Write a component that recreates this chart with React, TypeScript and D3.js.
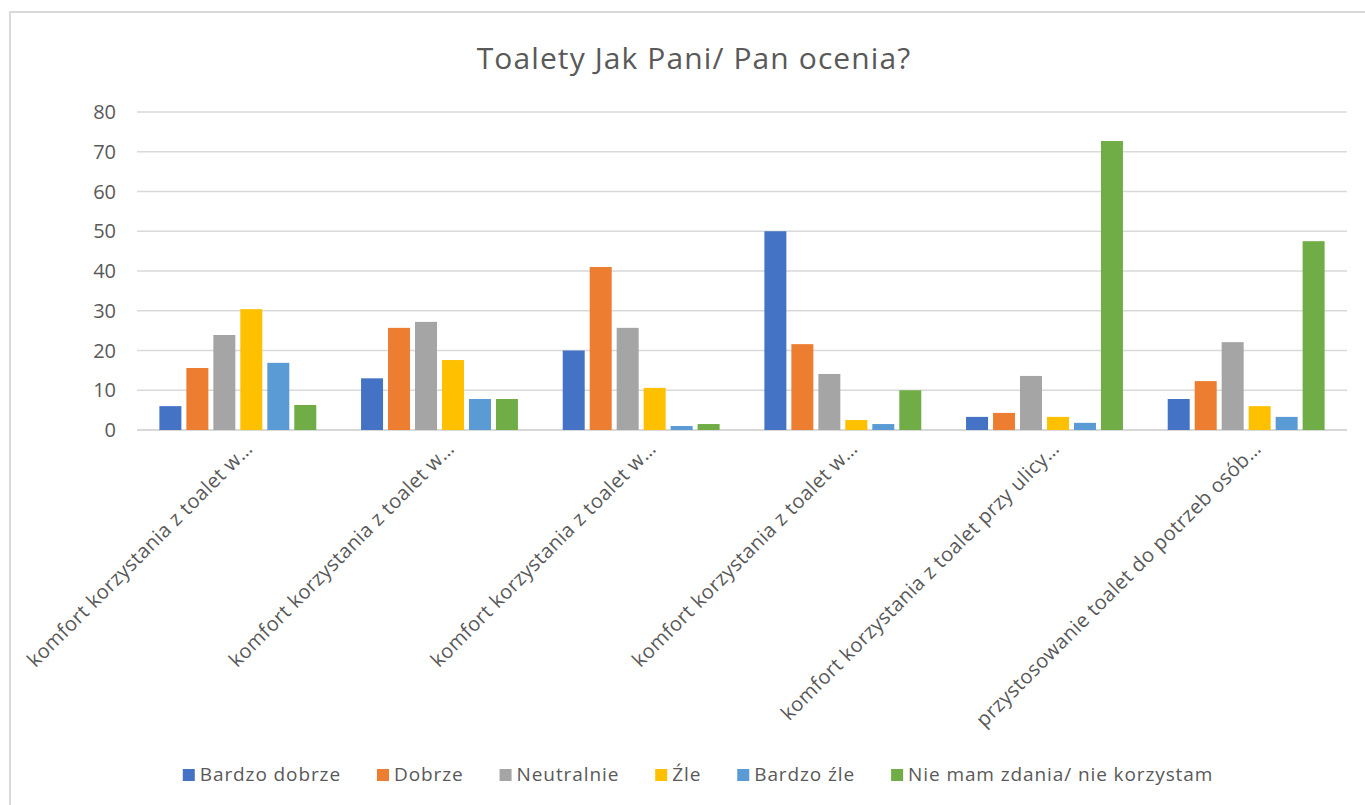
import React from "react";
import * as d3 from "d3";

const categories = [
  "komfort korzystania z toalet w…",
  "komfort korzystania z toalet w…",
  "komfort korzystania z toalet w…",
  "komfort korzystania z toalet w…",
  "komfort korzystania z toalet przy ulicy…",
  "przystosowanie toalet do potrzeb osób…",
];
const seriesNames = ["Bardzo dobrze", "Dobrze", "Neutralnie", "Źle", "Bardzo źle", "Nie mam zdania/ nie korzystam"];
const bardzoDobrze = [6, 13, 20, 50, 3.3, 7.8];
const dobrze = [15.6, 25.7, 41, 21.6, 4.3, 12.3];
const neutralnie = [23.9, 27.2, 25.7, 14.1, 13.6, 22.1];
const zle = [30.4, 17.6, 10.6, 2.5, 3.3, 6.0];
const bardzoZle = [16.9, 7.8, 1.0, 1.5, 1.8, 3.3];
const nieMamZdania = [6.3, 7.8, 1.5, 10, 72.7, 47.5];
const seriesValues = [bardzoDobrze, dobrze, neutralnie, zle, bardzoZle, nieMamZdania];
const colors = ["#4472C4", "#ED7D31", "#A5A5A5", "#FFC000", "#5B9BD5", "#70AD47"];
const yTicks = [0, 10, 20, 30, 40, 50, 60, 70, 80];

const FONT = "'Open Sans', 'Segoe UI', sans-serif";
const W = 1365;
const H = 805;

function measure(text: string, size: number, spacing: number): number {
  const c = document.createElement("canvas").getContext("2d");
  if (!c) return text.length * (size * 0.55 + spacing);
  c.font = `${size}px "Open Sans"`;
  return c.measureText(text).width + spacing * text.length;
}

export default function App() {
  const left = 137, right = 1347, top = 112, bottom = 430;
  const catIdx = categories.map((_, i) => String(i));
  const x0 = d3.scaleBand<string>().domain(catIdx).range([left, right]).paddingInner(0.222).paddingOuter(0.111);
  const x1 = d3.scaleBand<string>().domain(seriesNames).range([0, x0.bandwidth()]).paddingInner(0.185);
  const y = d3.scaleLinear().domain([0, 80]).range([bottom, top]);

  const legendSize = 19;
  const legendSpacing = 0.9;
  const sq = 12, sqGap = 5, itemGap = 36;
  const widths = seriesNames.map((s) => sq + sqGap + measure(s, legendSize, legendSpacing));
  const total = d3.sum(widths) + itemGap * (seriesNames.length - 1);
  const center = 698;
  let lx = center - total / 2;
  const legendItems = seriesNames.map((s, i) => {
    const x = lx;
    lx += widths[i] + itemGap;
    return { s, x, color: colors[i] };
  });

  return (
    <svg width={W} height={H} style={{ position: "absolute", left: 0, top: 0, background: "#fff" }} fontFamily={FONT}>
      <rect x={0} y={0} width={W} height={H} fill="#fff" />
      <rect x={10} y={12} width={1380} height={820} fill="#fff" stroke="#d9d9d9" strokeWidth={2} />
      <text x={center - 4} y={69} textAnchor="middle" fontSize={30} letterSpacing={1.1} fill="#595959">
        Toalety Jak Pani/ Pan ocenia?
      </text>
      {yTicks.map((t) => (
        <g key={t}>
          <line x1={left} x2={right} y1={y(t)} y2={y(t)} stroke="#d9d9d9" strokeWidth={t === 0 ? 2 : 1.5} />
          <text x={116} y={y(t)} dy="0.36em" textAnchor="end" fontSize={20} fill="#595959">
            {t}
          </text>
        </g>
      ))}
      {categories.map((c, ci) => (
        <g key={ci} transform={`translate(${x0(String(ci))},0)`}>
          {seriesNames.map((s, si) => {
            const v = seriesValues[si][ci];
            return (
              <rect key={s} x={x1(s)} y={y(v)} width={x1.bandwidth()} height={y(0) - y(v)} fill={colors[si]} />
            );
          })}
        </g>
      ))}
      {categories.map((c, ci) => {
        const cx = (x0(String(ci)) as number) + x0.bandwidth() / 2;
        return (
          <text
            key={ci}
            transform={`translate(${cx + 6},${bottom + 10}) rotate(-45)`}
            textAnchor="end"
            dy="0.71em"
            fontSize={20}
            letterSpacing={0.4}
            fill="#595959"
          >
            {c}
          </text>
        );
      })}
      {legendItems.map((it) => (
        <g key={it.s}>
          <rect x={it.x} y={769} width={sq} height={sq} fill={it.color} />
          <text x={it.x + sq + sqGap} y={781} fontSize={legendSize} letterSpacing={legendSpacing} fill="#595959">
            {it.s}
          </text>
        </g>
      ))}
    </svg>
  );
}
